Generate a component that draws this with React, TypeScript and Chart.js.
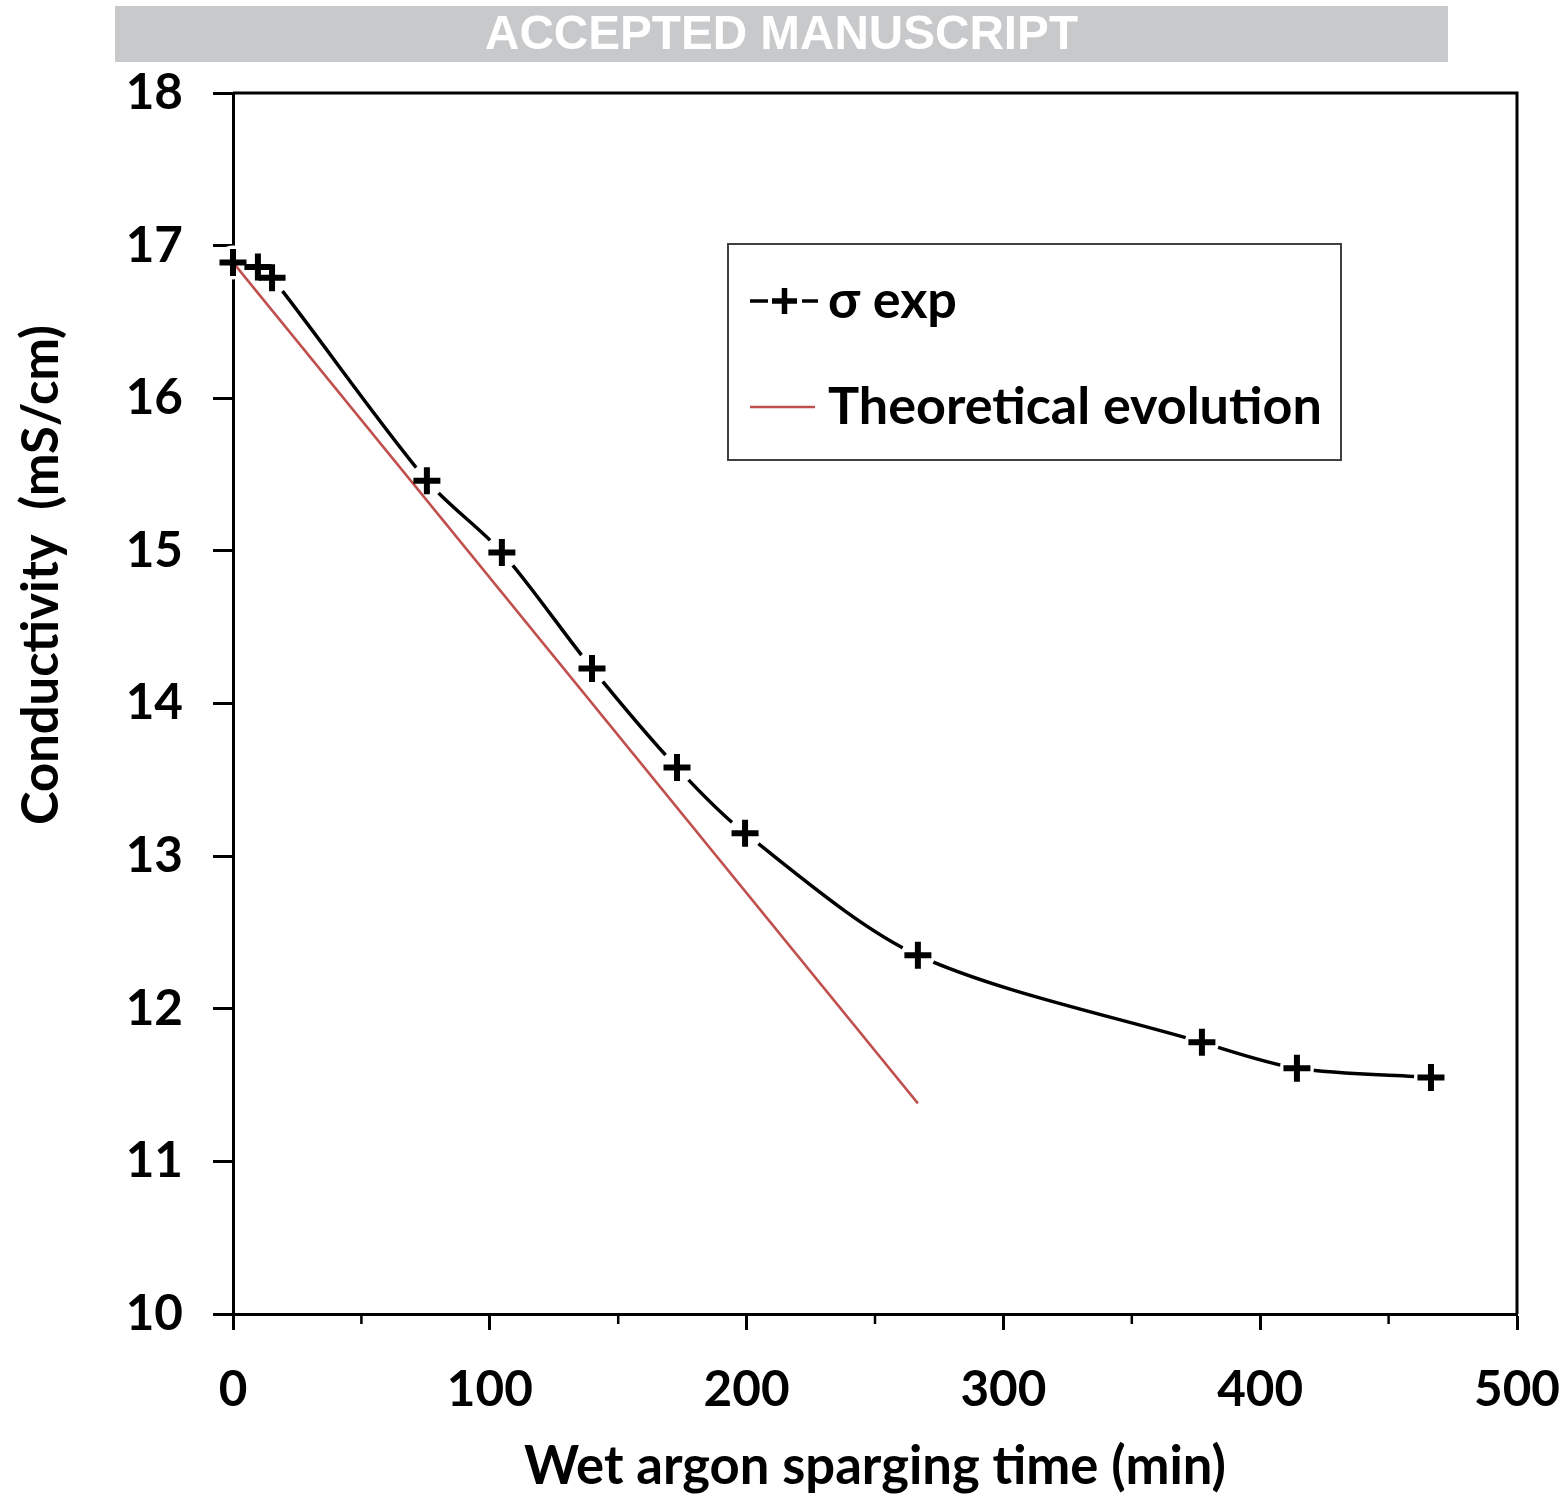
import React, { useEffect, useRef } from "react";
import { Chart, registerables } from "chart.js";

Chart.register(...registerables);

// ---- data ----
const timeMin = [0, 9.7, 15.2, 75.5, 104.7, 139.8, 172.9, 199.4, 266.7, 377.3, 414.3, 466.5];
const sigmaExp = [16.89, 16.86, 16.79, 15.46, 14.99, 14.23, 13.58, 13.15, 12.35, 11.78, 11.61, 11.55];
const theoryTime = [0, 266.7];
const theorySigma = [16.89, 11.38];

const headerText = "ACCEPTED MANUSCRIPT";
const xTitle = "Wet argon sparging time (min)";
const yTitle = "Conductivity  (mS/cm)";
const legendLabels = ["σ exp", "Theoretical evolution"];

const FAMILY = "Lato, 'Noto Sans', sans-serif";

function fitSize(text: string, weight: string, family: string, target: number): number {
  const c = document.createElement("canvas").getContext("2d")!;
  c.font = `${weight} 100px ${family}`;
  return (100 * target) / c.measureText(text).width;
}

export default function App() {
  const ref = useRef<HTMLCanvasElement | null>(null);

  useEffect(() => {
    const canvas = ref.current!;
    const tickSize = fitSize("100", "bold", FAMILY, 86);
    const xTitleSize = fitSize(xTitle, "bold", FAMILY, 702);
    const yTitleSize = fitSize(yTitle, "bold", FAMILY, 500);
    const legendSize = fitSize(legendLabels[1], "bold", FAMILY, 494);

    const pts = timeMin.map((t, i) => ({ x: t, y: sigmaExp[i] }));
    const theory = theoryTime.map((t, i) => ({ x: t, y: theorySigma[i] }));

    const decor = {
      id: "decor",
      beforeDraw(chart: any) {
        const ctx = chart.ctx;
        ctx.save();
        ctx.fillStyle = "#c8c9cb";
        ctx.fillRect(115, 6, 1333, 56);
        ctx.font = "bold 49px 'Liberation Sans', Arial, sans-serif";
        const w = ctx.measureText(headerText).width;
        ctx.translate(781.5, 35);
        ctx.scale(593 / w, 1);
        ctx.fillStyle = "#ffffff";
        ctx.textAlign = "center";
        ctx.textBaseline = "middle";
        ctx.fillText(headerText, 0, 0);
        ctx.restore();
      },
      afterDraw(chart: any) {
        const ctx = chart.ctx;
        const a = chart.chartArea;
        const xs = chart.scales.x;
        ctx.save();
        // top & right frame
        ctx.strokeStyle = "#000";
        ctx.lineWidth = 3;
        ctx.beginPath();
        ctx.moveTo(a.left, a.top);
        ctx.lineTo(a.right, a.top);
        ctx.lineTo(a.right, a.bottom);
        ctx.stroke();
        // minor x ticks
        ctx.lineWidth = 2.5;
        for (let v = 50; v < 500; v += 100) {
          const px = xs.getPixelForValue(v);
          ctx.beginPath();
          ctx.moveTo(px, a.bottom);
          ctx.lineTo(px, a.bottom + 10);
          ctx.stroke();
        }
        // axis titles
        ctx.fillStyle = "#000";
        ctx.textAlign = "center";
        ctx.textBaseline = "middle";
        ctx.font = `bold ${xTitleSize}px ${FAMILY}`;
        ctx.fillText(xTitle, (a.left + a.right) / 2, 1467);
        ctx.save();
        ctx.translate(42, 575);
        ctx.rotate(-Math.PI / 2);
        ctx.font = `bold ${yTitleSize}px ${FAMILY}`;
        ctx.fillText(yTitle, 0, 0);
        ctx.restore();
        // legend
        ctx.strokeStyle = "#404040";
        ctx.lineWidth = 2;
        ctx.strokeRect(728, 244, 613, 216);
        ctx.strokeStyle = "#000";
        ctx.lineWidth = 3.5;
        ctx.beginPath();
        ctx.moveTo(750, 301);
        ctx.lineTo(768, 301);
        ctx.moveTo(802, 301);
        ctx.lineTo(818, 301);
        ctx.stroke();
        ctx.lineWidth = 5.5;
        ctx.beginPath();
        ctx.moveTo(772, 301);
        ctx.lineTo(797, 301);
        ctx.moveTo(784.5, 288);
        ctx.lineTo(784.5, 314);
        ctx.stroke();
        ctx.strokeStyle = "#c0504d";
        ctx.lineWidth = 2.5;
        ctx.beginPath();
        ctx.moveTo(750, 407);
        ctx.lineTo(815, 407);
        ctx.stroke();
        ctx.fillStyle = "#000";
        ctx.textAlign = "left";
        ctx.font = `bold ${legendSize}px ${FAMILY}`;
        ctx.fillText(legendLabels[0], 828, 301);
        ctx.fillText(legendLabels[1], 828, 407);
        ctx.restore();
      },
    };

    const tickFont = { family: FAMILY, size: tickSize, weight: "bold" as const };

    const chart = new Chart(canvas, {
      type: "line",
      data: {
        datasets: [
          {
            label: "crosses",
            data: pts,
            showLine: false,
            pointStyle: "cross",
            pointRadius: 13.5,
            pointBorderWidth: 6,
            pointBorderColor: "#000",
            pointBackgroundColor: "#000",
            clip: false,
          },
          {
            label: legendLabels[1],
            data: theory,
            borderColor: "#c0504d",
            borderWidth: 2.5,
            pointRadius: 0,
            tension: 0,
          },
          {
            label: "mask",
            data: pts,
            showLine: false,
            pointRadius: 17,
            pointBorderWidth: 0,
            pointBackgroundColor: "#ffffff",
            pointBorderColor: "#ffffff",
            clip: false,
          },
          {
            label: legendLabels[0],
            data: pts,
            borderColor: "#000",
            borderWidth: 3.5,
            pointRadius: 0,
            tension: 0.3,
          },
        ],
      },
      options: {
        responsive: false,
        devicePixelRatio: 1,
        animation: false,
        events: [],
        layout: { padding: { top: 93, right: 51, left: 0, bottom: 0 } },
        plugins: { legend: { display: false }, tooltip: { enabled: false } },
        scales: {
          x: {
            type: "linear",
            min: 0,
            max: 500,
            afterFit: (s: any) => {
              s.height = 183;
              s.paddingLeft = 0;
              s.paddingRight = 0;
            },
            ticks: {
              stepSize: 50,
              autoSkip: false,
              maxRotation: 0,
              padding: 30,
              color: "#000",
              font: tickFont,
              callback: (v: any) => (Number(v) % 100 === 0 ? String(v) : ""),
            },
            grid: {
              drawOnChartArea: false,
              drawTicks: true,
              tickLength: 16,
              tickWidth: 3,
              tickColor: (c: any) =>
                c.tick && Number(c.tick.value) % 100 === 0 ? "#000" : "rgba(0,0,0,0)",
            },
            border: { display: true, color: "#000", width: 3 },
          },
          y: {
            type: "linear",
            min: 10,
            max: 18,
            z: 1,
            afterFit: (s: any) => {
              s.width = 233;
              s.paddingTop = 0;
              s.paddingBottom = 0;
            },
            ticks: {
              stepSize: 1,
              padding: 30,
              color: "#000",
              font: tickFont,
            },
            grid: {
              drawOnChartArea: false,
              drawTicks: true,
              tickLength: 20,
              tickWidth: 3,
              tickColor: "#000",
            },
            border: { display: true, color: "#000", width: 3 },
          },
        },
      },
      plugins: [decor],
    });
    return () => chart.destroy();
  }, []);

  return (
    <div style={{ position: "absolute", left: 0, top: 0, width: 1568, height: 1497, background: "#fff" }}>
      <canvas ref={ref} width={1568} height={1497} style={{ display: "block", width: 1568, height: 1497 }} />
    </div>
  );
}
